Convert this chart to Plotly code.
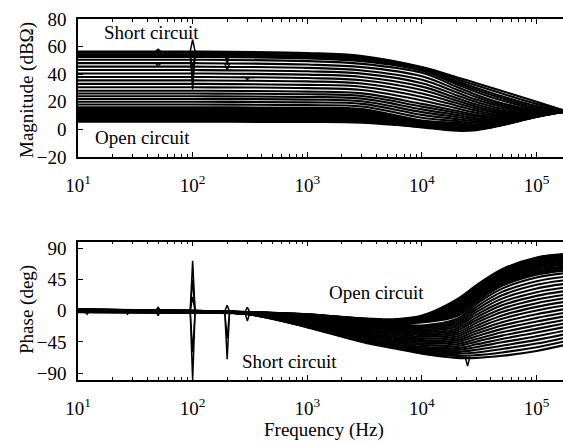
import plotly.graph_objects as go

# ---------------- data ----------------
# frequency grids (Hz)
freq_mag_hz = [10, 100, 1e3, 3e3, 1e4, 2e4, 3e4, 5e4, 1e5, 1.7e5]
freq_phase_hz = [10, 100, 300, 1e3, 3e3, 6e3, 1e4, 2e4, 3e4, 5e4, 1e5, 1.7e5]

# impedance magnitude (dBOhm), one row per load step: open circuit -> short circuit
mag_db = [
    [5.5, 5.5, 5.4, 4.8, 1.5, -1.0, -0.5, 3.0, 9.0, 12.5],
    [6.5, 6.5, 6.4, 5.7, 1.8, 0.2, 0.1, 3.2, 9.1, 12.6],
    [7.25, 7.25, 7.1, 6.4, 2.05, 0.7, 0.3, 3.35, 9.2, 12.6],
    [8.0, 8.0, 7.8, 7.1, 2.3, 1.2, 0.5, 3.5, 9.3, 12.6],
    [8.75, 8.75, 8.55, 7.8, 2.6, 1.4, 0.7, 3.65, 9.35, 12.65],
    [9.5, 9.5, 9.3, 8.5, 2.9, 1.6, 0.9, 3.8, 9.4, 12.7],
    [10.25, 10.25, 10.05, 9.25, 3.15, 1.85, 1.15, 3.9, 9.45, 12.7],
    [11.0, 11.0, 10.8, 10.0, 3.4, 2.1, 1.4, 4.0, 9.5, 12.7],
    [11.75, 11.75, 11.55, 10.7, 3.7, 2.4, 1.65, 4.15, 9.55, 12.75],
    [12.5, 12.5, 12.3, 11.4, 4.0, 2.7, 1.9, 4.3, 9.6, 12.8],
    [13.25, 13.25, 13.0, 12.1, 4.45, 3.05, 2.25, 4.4, 9.65, 12.8],
    [14.0, 14.0, 13.7, 12.8, 4.9, 3.4, 2.6, 4.5, 9.7, 12.8],
    [15.0, 15.0, 14.7, 13.75, 5.7, 4.05, 3.15, 4.7, 9.8, 12.85],
    [16.0, 16.0, 15.7, 14.7, 6.5, 4.7, 3.7, 4.9, 9.9, 12.9],
    [18.0, 18.0, 17.6, 16.6, 8.5, 6.1, 4.8, 5.4, 10.0, 12.9],
    [20.0, 20.0, 19.6, 18.5, 10.5, 7.5, 5.7, 5.8, 10.2, 13.0],
    [22.0, 22.0, 21.6, 20.4, 12.5, 9.0, 6.9, 6.5, 10.4, 13.0],
    [24.0, 24.0, 23.5, 22.3, 14.5, 10.5, 8.1, 7.2, 10.6, 13.1],
    [26.0, 26.0, 25.5, 24.2, 16.5, 12.0, 9.3, 7.9, 10.8, 13.1],
    [28.0, 28.0, 27.4, 26.1, 18.5, 13.5, 10.5, 8.6, 10.9, 13.2],
    [30.5, 30.5, 29.9, 28.5, 21.0, 15.3, 12.0, 9.5, 11.0, 13.2],
    [33.0, 33.0, 32.3, 30.9, 23.5, 17.2, 13.5, 10.5, 11.3, 13.3],
    [35.5, 35.5, 34.8, 33.2, 26.0, 19.1, 15.0, 11.5, 11.5, 13.3],
    [38.0, 38.0, 37.2, 35.6, 28.5, 20.9, 16.5, 12.5, 11.8, 13.4],
    [40.5, 40.5, 39.7, 38.0, 31.0, 22.8, 18.0, 13.5, 12.0, 13.4],
    [43.0, 43.0, 42.1, 40.4, 33.5, 24.8, 19.8, 14.9, 12.5, 13.5],
    [45.5, 45.5, 44.6, 42.7, 36.0, 26.9, 21.5, 16.3, 13.0, 13.5],
    [48.0, 48.0, 47.0, 45.1, 38.5, 28.9, 23.3, 17.6, 13.5, 13.6],
    [50.5, 50.5, 49.5, 47.5, 41.0, 30.9, 25.0, 19.0, 14.0, 13.6],
    [52.5, 52.5, 51.5, 49.4, 42.5, 32.7, 27.0, 21.0, 14.8, 13.7],
    [53.5, 53.5, 52.4, 50.3, 43.3, 34.0, 28.5, 22.5, 15.8, 13.8],
    [54.5, 54.5, 53.4, 51.3, 44.0, 35.2, 30.0, 24.0, 17.0, 13.8],
    [55.5, 55.5, 54.4, 52.2, 44.6, 36.5, 31.8, 26.0, 18.5, 13.9],
    [56.5, 56.5, 55.4, 53.2, 45.2, 37.8, 33.5, 27.8, 20.0, 14.0],
]

# impedance phase (deg), same load steps
phase_deg = [
    [2.0, 0.0, -2.0, -5.0, -11.0, -12.0, -7.0, 16.0, 37.0, 60.0, 77.0, 82.0],
    [1.9, -0.1, -2.0, -5.2, -11.3, -13.4, -8.0, 14.0, 35.0, 58.0, 74.9, 80.0],
    [1.8, -0.15, -2.05, -5.4, -11.65, -13.85, -9.0, 12.0, 33.0, 56.0, 72.8, 78.0],
    [1.7, -0.2, -2.1, -5.6, -12.0, -14.3, -10.0, 10.0, 31.0, 54.0, 70.8, 76.0],
    [1.65, -0.25, -2.15, -5.8, -12.35, -14.7, -11.0, 8.0, 29.0, 52.0, 68.7, 74.0],
    [1.6, -0.3, -2.2, -6.0, -12.7, -15.1, -12.0, 6.0, 27.0, 50.0, 66.6, 72.0],
    [1.5, -0.35, -2.2, -6.15, -13.05, -15.5, -12.5, 4.0, 25.0, 48.0, 64.5, 70.0],
    [1.4, -0.4, -2.2, -6.3, -13.4, -15.9, -13.0, 2.0, 23.0, 46.0, 62.4, 68.0],
    [1.35, -0.5, -2.25, -6.5, -13.75, -16.35, -14.0, 0.0, 21.0, 44.0, 60.4, 66.0],
    [1.3, -0.6, -2.3, -6.7, -14.1, -16.8, -15.0, -2.0, 19.0, 42.0, 58.3, 64.0],
    [1.2, -0.65, -2.35, -7.0, -14.6, -17.4, -15.5, -4.0, 17.0, 40.0, 56.2, 62.0],
    [1.1, -0.7, -2.4, -7.3, -15.1, -18.0, -16.0, -6.0, 15.0, 38.0, 54.1, 60.0],
    [1.05, -0.75, -2.45, -7.6, -15.6, -18.65, -17.0, -8.0, 13.0, 36.0, 52.0, 58.0],
    [1.0, -0.8, -2.5, -7.9, -16.1, -19.3, -21.2, -12.0, 10.0, 32.0, 48.0, 54.0],
    [0.8, -0.9, -2.6, -8.6, -17.5, -21.0, -23.1, -14.8, 6.1, 27.2, 42.7, 48.8],
    [0.7, -1.0, -2.7, -9.4, -18.8, -22.7, -25.0, -17.6, 2.2, 22.3, 37.4, 43.6],
    [0.5, -1.1, -2.8, -10.1, -20.2, -24.3, -27.0, -20.4, -1.7, 17.5, 32.1, 38.4],
    [0.4, -1.2, -2.9, -10.9, -21.5, -26.0, -28.9, -23.2, -5.6, 12.6, 26.8, 33.2],
    [0.2, -1.3, -3.1, -11.7, -22.9, -27.7, -30.8, -26.0, -9.5, 7.8, 21.5, 28.0],
    [0.1, -1.4, -3.2, -12.4, -24.3, -29.4, -32.7, -28.8, -13.4, 2.9, 16.2, 22.8],
    [-0.1, -1.6, -3.3, -13.4, -26.0, -31.5, -35.1, -31.6, -17.3, -1.9, 10.9, 17.6],
    [-0.2, -1.7, -3.5, -14.3, -27.7, -33.6, -37.5, -34.4, -21.2, -6.8, 5.6, 12.4],
    [-0.4, -1.8, -3.6, -15.3, -29.4, -35.7, -39.9, -37.2, -25.1, -11.7, 0.3, 7.2],
    [-0.5, -1.9, -3.8, -16.2, -31.1, -37.8, -42.3, -40.0, -29.0, -16.5, -5.0, 2.0],
    [-0.7, -2.0, -3.9, -17.2, -32.8, -39.9, -44.7, -42.8, -32.9, -21.4, -10.3, -3.2],
    [-0.8, -2.1, -4.1, -18.1, -34.5, -42.0, -47.1, -45.6, -36.8, -26.2, -15.6, -8.4],
    [-1.0, -2.2, -4.2, -19.1, -36.2, -44.1, -49.5, -48.4, -40.7, -31.1, -20.9, -13.6],
    [-1.1, -2.3, -4.4, -20.0, -37.9, -46.2, -51.9, -51.2, -44.6, -35.9, -26.2, -18.8],
    [-1.3, -2.4, -4.5, -21.0, -39.6, -48.3, -54.3, -54.0, -48.5, -40.8, -31.5, -24.0],
    [-1.4, -2.6, -4.6, -21.7, -40.9, -50.0, -56.2, -56.8, -52.4, -45.6, -36.8, -29.2],
    [-1.6, -2.7, -4.7, -22.3, -41.9, -51.2, -57.7, -59.6, -56.3, -50.5, -42.1, -34.4],
    [-1.7, -2.8, -4.8, -22.9, -43.0, -52.5, -59.1, -62.4, -60.2, -55.3, -47.4, -39.6],
    [-1.9, -2.9, -4.9, -23.4, -44.0, -53.7, -60.6, -65.2, -64.1, -60.2, -52.7, -44.8],
    [-2.0, -3.0, -5.0, -24.0, -45.0, -55.0, -62.0, -68.0, -68.0, -65.0, -58.0, -50.0],
]

# narrow disturbances (mains harmonics etc.): frequency, level around it, extreme value
mag_spike_hz = [50, 50, 100, 100, 100, 100, 100, 200, 200, 200, 300, 300]
mag_spike_base = [56.5, 48.0, 56.5, 55.5, 54.5, 52.5, 50.5, 56.5, 55.5, 48.0, 56.5, 38.0]
mag_spike_tip = [58.0, 46.0, 65.0, 29.0, 36.0, 44.0, 46.0, 50.0, 47.0, 43.0, 54.0, 36.0]

phase_spike_hz = [12, 27, 50, 50, 100, 100, 100, 100, 100, 200, 200, 200, 300, 300, 25000]
phase_spike_base = [0, 0, 0, 0, 0, 0, -1, -1, 0, -1, -1, -1, -2, -3, -66]
phase_spike_tip = [-5, -5, 5, -7, 72, 45, -100, -60, 20, 8, -70, -40, 5, -15, -80]

# ---------------- figure ----------------
FONT = "Liberation Serif, Times New Roman, serif"
LINE = dict(color="black", width=2.1)
SPIKE_HALF = 1.05  # multiplicative half-width of a disturbance on the log axis

fig = go.Figure()

for row in mag_db:
    fig.add_trace(go.Scatter(x=freq_mag_hz, y=row, mode="lines", line=dict(shape="spline", **LINE),
                             xaxis="x", yaxis="y", showlegend=False, hoverinfo="skip"))
for f, b, t in zip(mag_spike_hz, mag_spike_base, mag_spike_tip):
    fig.add_trace(go.Scatter(x=[f / SPIKE_HALF, f, f * SPIKE_HALF], y=[b, t, b], mode="lines",
                             line=dict(color="black", width=1.5), xaxis="x", yaxis="y",
                             showlegend=False, hoverinfo="skip"))

for row in phase_deg:
    fig.add_trace(go.Scatter(x=freq_phase_hz, y=row, mode="lines", line=dict(shape="spline", **LINE),
                             xaxis="x2", yaxis="y2", showlegend=False, hoverinfo="skip"))
for f, b, t in zip(phase_spike_hz, phase_spike_base, phase_spike_tip):
    fig.add_trace(go.Scatter(x=[f / SPIKE_HALF, f, f * SPIKE_HALF], y=[b, t, b], mode="lines",
                             line=dict(color="black", width=1.5), xaxis="x2", yaxis="y2",
                             showlegend=False, hoverinfo="skip"))

W, H = 563, 444
x_dom = [78 / W, 1.0]
top_dom = [1 - 157 / H, 1 - 19 / H]
bot_dom = [1 - 380 / H, 1 - 241.5 / H]

minor_vals = [k * 10 ** n for n in range(1, 6) for k in range(2, 10)]
xaxis_common = dict(
    type="log", range=[1, 5.2304], domain=x_dom, automargin=False,
    tickmode="array", tickvals=[10, 100, 1e3, 1e4, 1e5],
    ticktext=["10<sup>1</sup>", "10<sup>2</sup>", "10<sup>3</sup>", "10<sup>4</sup>", "10<sup>5</sup>"],
    ticks="inside", ticklen=5, tickwidth=1.3, tickcolor="black",
    minor=dict(tickmode="array", tickvals=minor_vals, ticks="inside", ticklen=3,
               tickwidth=1.1, tickcolor="black", showgrid=False),
    showline=True, linecolor="black", linewidth=1.6, mirror="allticks",
    showgrid=False, zeroline=False,
    tickfont=dict(family=FONT, size=19, color="black"),
    ticklabelstandoff=10,
)
yaxis_common = dict(
    automargin=False,
    ticks="inside", ticklen=5, tickwidth=1.3, tickcolor="black",
    showline=True, linecolor="black", linewidth=1.6,
    showgrid=False, zeroline=False,
    tickfont=dict(family=FONT, size=19, color="black"),
    ticklabelstandoff=6,
)

fig.update_layout(
    width=W, height=H,
    margin=dict(l=0, r=0, t=0, b=0, autoexpand=False),
    paper_bgcolor="white", plot_bgcolor="white",
    xaxis=dict(anchor="y", **xaxis_common),
    yaxis=dict(anchor="x", domain=top_dom, range=[-20, 80], tickvals=[-20, 0, 20, 40, 60, 80], **yaxis_common),
    xaxis2=dict(anchor="y2", **xaxis_common),
    yaxis2=dict(anchor="x2", domain=bot_dom, range=[-100, 100], tickvals=[-90, -45, 0, 45, 90], **yaxis_common),
)

TXT = dict(family=FONT, size=19, color="black")
notes = [
    ("Short circuit", 151, 32, 0),
    ("Open circuit", 142, 137, 0),
    ("Open circuit", 376, 292, 0),
    ("Short circuit", 289, 361, 0),
    ("Magnitude (dB\u03a9)", 27, 90, -90),
    ("Phase (deg)", 27, 310, -90),
    ("Frequency (Hz)", 324, 430, 0),
]
for text, px, py, ang in notes:
    fig.add_annotation(text=text, x=px / W, y=1 - py / H, xref="paper", yref="paper",
                       xanchor="center", yanchor="middle", showarrow=False,
                       textangle=ang, font=TXT)

fig.write_html("out.html")
